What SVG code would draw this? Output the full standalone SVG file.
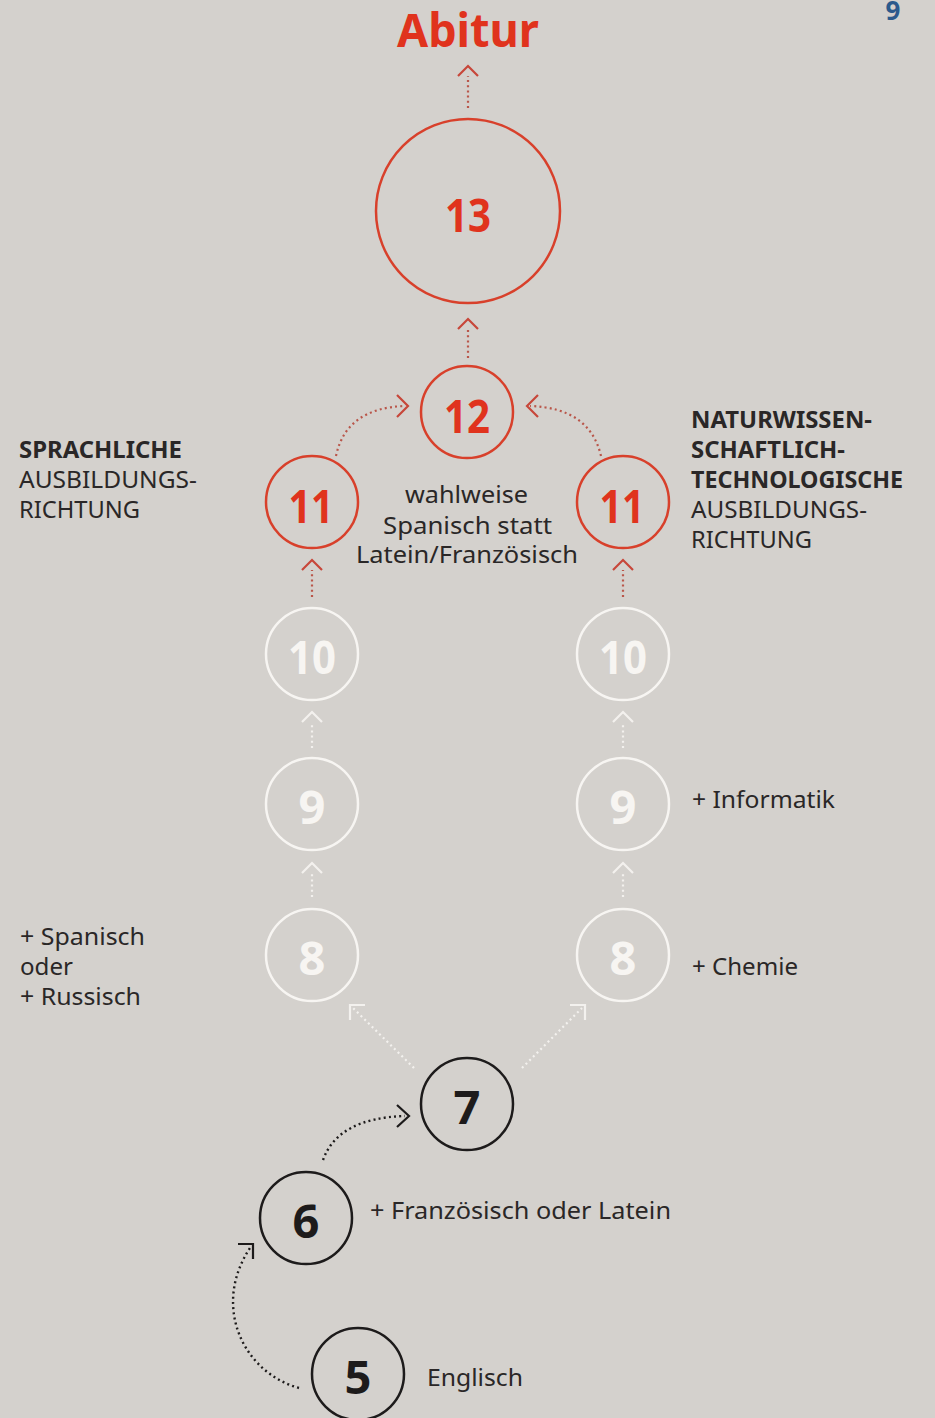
<svg xmlns="http://www.w3.org/2000/svg" width="935" height="1418" viewBox="0 0 935 1418">
<defs>
<style>
.num{font-family:"Noto Sans","Open Sans",sans-serif;font-weight:700;font-size:47px;text-anchor:middle}
.lbl{font-family:"Noto Sans","Open Sans",sans-serif;font-size:24px;fill:#2a2727}
.b{font-weight:700}
.cr{fill:none;stroke:#d8402b;stroke-width:2.5}
.cw{fill:none;stroke:#f7f5f2;stroke-width:2.5}
.ck{fill:none;stroke:#1d1b1b;stroke-width:2.5}
.nr{fill:#e0331d}
.nw{fill:#f7f5f2}
.nk{fill:#1d1b1b}
.dr{fill:none;stroke:#b9564a;stroke-width:2.2;stroke-dasharray:2 3.2}
.dw{fill:none;stroke:#f3f1ee;stroke-width:2.2;stroke-dasharray:2 3.2}
.dk{fill:none;stroke:#1d1b1b;stroke-width:2.4;stroke-dasharray:2 3.2}
.hr{fill:none;stroke:#c7473a;stroke-width:2.2}
.hw{fill:none;stroke:#f3f1ee;stroke-width:2.2}
.hk{fill:none;stroke:#1d1b1b;stroke-width:2.2}
</style>
</defs>
<rect width="935" height="1418" fill="#d4d1cd"/>
<text x="893" y="20" font-family="Noto Sans, sans-serif" font-weight="700" font-size="26" fill="#2b5a8c" text-anchor="middle">9</text>
<text x="468" y="47" font-family="Noto Sans, sans-serif" font-weight="700" font-size="47" fill="#e0331d" text-anchor="middle" textLength="142" lengthAdjust="spacingAndGlyphs">Abitur</text>

<g id="connectors">
<path class="dr" d="M468,108 V76"/>
<polyline class="hr" points="458,76 468,66 478,76"/>
<path class="dr" d="M468,358 V329"/>
<polyline class="hr" points="458,329 468,319 478,329"/>
<path class="dr" d="M336,456 Q346,408 405,406"/>
<polyline class="hr" points="397,395 408,406 397,417"/>
<path class="dr" d="M601,456 Q590,408 530,406"/>
<polyline class="hr" points="538,395 527,406 538,417"/>
<path class="dr" d="M312,597 V570"/>
<polyline class="hr" points="302,570 312,560 322,570"/>
<path class="dr" d="M623,597 V570"/>
<polyline class="hr" points="613,570 623,560 633,570"/>
<path class="dw" d="M312,748 V722"/>
<polyline class="hw" points="302,722 312,712 322,722"/>
<path class="dw" d="M623,748 V722"/>
<polyline class="hw" points="613,722 623,712 633,722"/>
<path class="dw" d="M312,897 V873"/>
<polyline class="hw" points="302,873 312,863 322,873"/>
<path class="dw" d="M623,897 V873"/>
<polyline class="hw" points="613,873 623,863 633,873"/>
<path class="dw" d="M414,1068 L353,1008"/>
<polyline class="hw" points="365,1005 350,1005 350,1020"/>
<path class="dw" d="M522,1068 L582,1008"/>
<polyline class="hw" points="570,1005 585,1005 585,1020"/>
<path class="dk" d="M323,1160 Q338,1118 405,1116"/>
<polyline class="hk" points="397,1105 409,1116 397,1127"/>
<path class="dk" d="M299,1388 C242,1372 212,1305 250,1248"/>
<polyline class="hk" points="238,1244 253,1244 253,1259"/>
</g>

<g id="n13"><circle class="cr" cx="468" cy="211" r="92"/><text class="num nr" x="468" y="232" textLength="46" lengthAdjust="spacingAndGlyphs">13</text></g>
<g id="n12"><circle class="cr" cx="467" cy="412" r="46"/><text class="num nr" x="467" y="433" textLength="46" lengthAdjust="spacingAndGlyphs">12</text></g>
<g id="n11a"><circle class="cr" cx="312" cy="502" r="46"/><text class="num nr" x="311" y="523" textLength="45" lengthAdjust="spacingAndGlyphs">11</text></g>
<g id="n11b"><circle class="cr" cx="623" cy="502" r="46"/><text class="num nr" x="622" y="523" textLength="45" lengthAdjust="spacingAndGlyphs">11</text></g>
<g id="n10a"><circle class="cw" cx="312" cy="654" r="46"/><text class="num nw" x="312" y="674" textLength="48" lengthAdjust="spacingAndGlyphs">10</text></g>
<g id="n10b"><circle class="cw" cx="623" cy="654" r="46"/><text class="num nw" x="623" y="674" textLength="48" lengthAdjust="spacingAndGlyphs">10</text></g>
<g id="n9a"><circle class="cw" cx="312" cy="804" r="46"/><text class="num nw" x="312" y="824">9</text></g>
<g id="n9b"><circle class="cw" cx="623" cy="804" r="46"/><text class="num nw" x="623" y="824">9</text></g>
<g id="n8a"><circle class="cw" cx="312" cy="955" r="46"/><text class="num nw" x="312" y="975">8</text></g>
<g id="n8b"><circle class="cw" cx="623" cy="955" r="46"/><text class="num nw" x="623" y="975">8</text></g>
<g id="n7"><circle class="ck" cx="467" cy="1104" r="46"/><text class="num nk" x="467" y="1124">7</text></g>
<g id="n6"><circle class="ck" cx="306" cy="1218" r="46"/><text class="num nk" x="306" y="1238">6</text></g>
<g id="n5"><circle class="ck" cx="358" cy="1374" r="46"/><text class="num nk" x="358" y="1394">5</text></g>

<g id="left-label">
<text class="lbl b" x="19" y="458" textLength="163" lengthAdjust="spacingAndGlyphs">SPRACHLICHE</text>
<text class="lbl" x="19" y="488" textLength="178" lengthAdjust="spacingAndGlyphs">AUSBILDUNGS-</text>
<text class="lbl" x="19" y="518" textLength="121" lengthAdjust="spacingAndGlyphs">RICHTUNG</text>
</g>
<g id="right-label">
<text class="lbl b" x="691" y="428" textLength="181" lengthAdjust="spacingAndGlyphs">NATURWISSEN-</text>
<text class="lbl b" x="691" y="458" textLength="154" lengthAdjust="spacingAndGlyphs">SCHAFTLICH-</text>
<text class="lbl b" x="691" y="488" textLength="212" lengthAdjust="spacingAndGlyphs">TECHNOLOGISCHE</text>
<text class="lbl" x="691" y="518" textLength="176" lengthAdjust="spacingAndGlyphs">AUSBILDUNGS-</text>
<text class="lbl" x="691" y="548" textLength="121" lengthAdjust="spacingAndGlyphs">RICHTUNG</text>
</g>
<g id="mid-label">
<text class="lbl" x="405" y="503" textLength="123" lengthAdjust="spacingAndGlyphs">wahlweise</text>
<text class="lbl" x="383" y="534" textLength="169" lengthAdjust="spacingAndGlyphs">Spanisch statt</text>
<text class="lbl" x="356" y="563" textLength="222" lengthAdjust="spacingAndGlyphs">Latein/Französisch</text>
</g>
<g id="notes">
<text class="lbl" x="692" y="808" textLength="143" lengthAdjust="spacingAndGlyphs">+ Informatik</text>
<text class="lbl" x="692" y="975" textLength="106" lengthAdjust="spacingAndGlyphs">+ Chemie</text>
<text class="lbl" x="20" y="945" textLength="125" lengthAdjust="spacingAndGlyphs">+ Spanisch</text>
<text class="lbl" x="20" y="975" textLength="53" lengthAdjust="spacingAndGlyphs">oder</text>
<text class="lbl" x="20" y="1005" textLength="121" lengthAdjust="spacingAndGlyphs">+ Russisch</text>
<text class="lbl" x="370" y="1219" textLength="301" lengthAdjust="spacingAndGlyphs">+ Französisch oder Latein</text>
<text class="lbl" x="427" y="1386" textLength="96" lengthAdjust="spacingAndGlyphs">Englisch</text>
</g>
</svg>
